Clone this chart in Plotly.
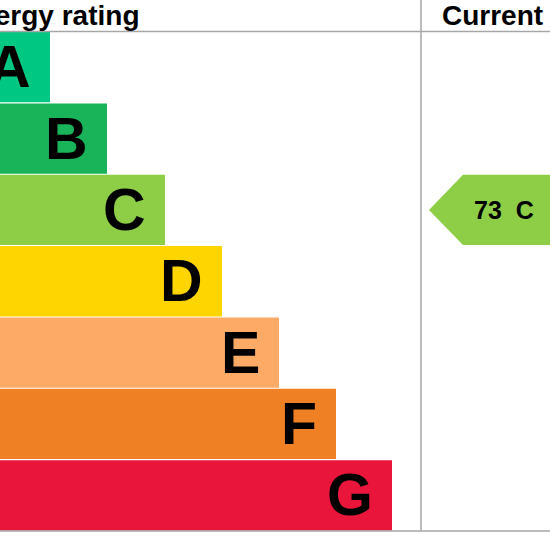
import plotly.graph_objects as go

# EPC bands and the right edge of each band's bar (px-ish units)
bands = ["A", "B", "C", "D", "E", "F", "G"]
band_ends = [50, 107, 165, 222, 279, 336, 392]
band_colors = ["#00c781", "#19b459", "#8dce46", "#ffd500", "#fcaa65", "#ef8023", "#e9153b"]

current_score = 73
current_band = "C"

W = H = 550
FONT = "Liberation Sans, Arial, sans-serif"
GRID = "#a6a6a6"
col_x = 421          # divider between rating bars and "Current" column
top_y = 31.5         # header rule
bot_y = 531          # bottom rule
gap = 0.015

idx = list(range(len(bands)))

fig = go.Figure()
fig.add_trace(go.Bar(
    y=idx, x=band_ends, orientation="h",
    marker=dict(color=band_colors, line=dict(width=0)),
    hoverinfo="skip", showlegend=False,
))

# arrow for the current rating
ci = bands.index(current_band)
half = (1 - gap) / 2
tip, shoulder = 429, 463
ax = [W, shoulder, tip, shoulder, W, W]
ay = [ci - half, ci - half, ci, ci + half, ci + half, ci - half]
fig.add_trace(go.Scatter(
    x=ax, y=ay, mode="lines", fill="toself",
    fillcolor=band_colors[ci], line=dict(width=0),
    hoverinfo="skip", showlegend=False,
))

annotations = []
for i, (b, e) in enumerate(zip(bands, band_ends)):
    annotations.append(dict(
        x=e, y=i, xref="x", yref="y", text=f"<b>{b}</b>",
        xanchor="right", yanchor="middle", xshift=-17, showarrow=False,
        font=dict(family=FONT, size=59, color="#000000"),
    ))

annotations.append(dict(
    x=504, y=ci, xref="x", yref="y",
    text=f"<b>{current_score}\u00a0\u00a0{current_band}</b>",
    xanchor="center", yanchor="middle", showarrow=False,
    font=dict(family=FONT, size=25, color="#000000"),
))

# column headers
annotations.append(dict(
    x=141 / W, y=1 - 16 / H, xref="paper", yref="paper",
    text="<b>Energy rating</b>", xanchor="right", yanchor="middle",
    showarrow=False, font=dict(family=FONT, size=28, color="#000000"),
))
annotations.append(dict(
    x=(col_x + 19) / W, y=1 - 16 / H, xref="paper", yref="paper",
    text="<b>Current</b>", xanchor="left", yanchor="middle",
    showarrow=False, font=dict(family=FONT, size=28, color="#000000"),
))

shapes = [
    dict(type="line", xref="paper", yref="paper", x0=0, x1=1,
         y0=1 - top_y / H, y1=1 - top_y / H, line=dict(color=GRID, width=1.5)),
    dict(type="line", xref="paper", yref="paper", x0=0, x1=1,
         y0=1 - bot_y / H, y1=1 - bot_y / H, line=dict(color=GRID, width=1.5)),
    dict(type="line", xref="paper", yref="paper", x0=col_x / W, x1=col_x / W,
         y0=1 - bot_y / H, y1=1, line=dict(color=GRID, width=1.5)),
]

fig.update_layout(
    width=W, height=H,
    margin=dict(l=0, r=0, t=0, b=0),
    paper_bgcolor="white", plot_bgcolor="white",
    bargap=gap,
    xaxis=dict(range=[0, W], domain=[0, 1], visible=False, fixedrange=True),
    yaxis=dict(range=[len(bands) - 0.5, -0.5], visible=False,
               domain=[1 - bot_y / H, 1 - top_y / H], fixedrange=True),
    annotations=annotations,
    shapes=shapes,
)

# drop the page's default body margin so the chart sits at the window corner
fig.write_html("out.html", config={"displayModeBar": False},
               post_script="document.body.style.margin='0';")
